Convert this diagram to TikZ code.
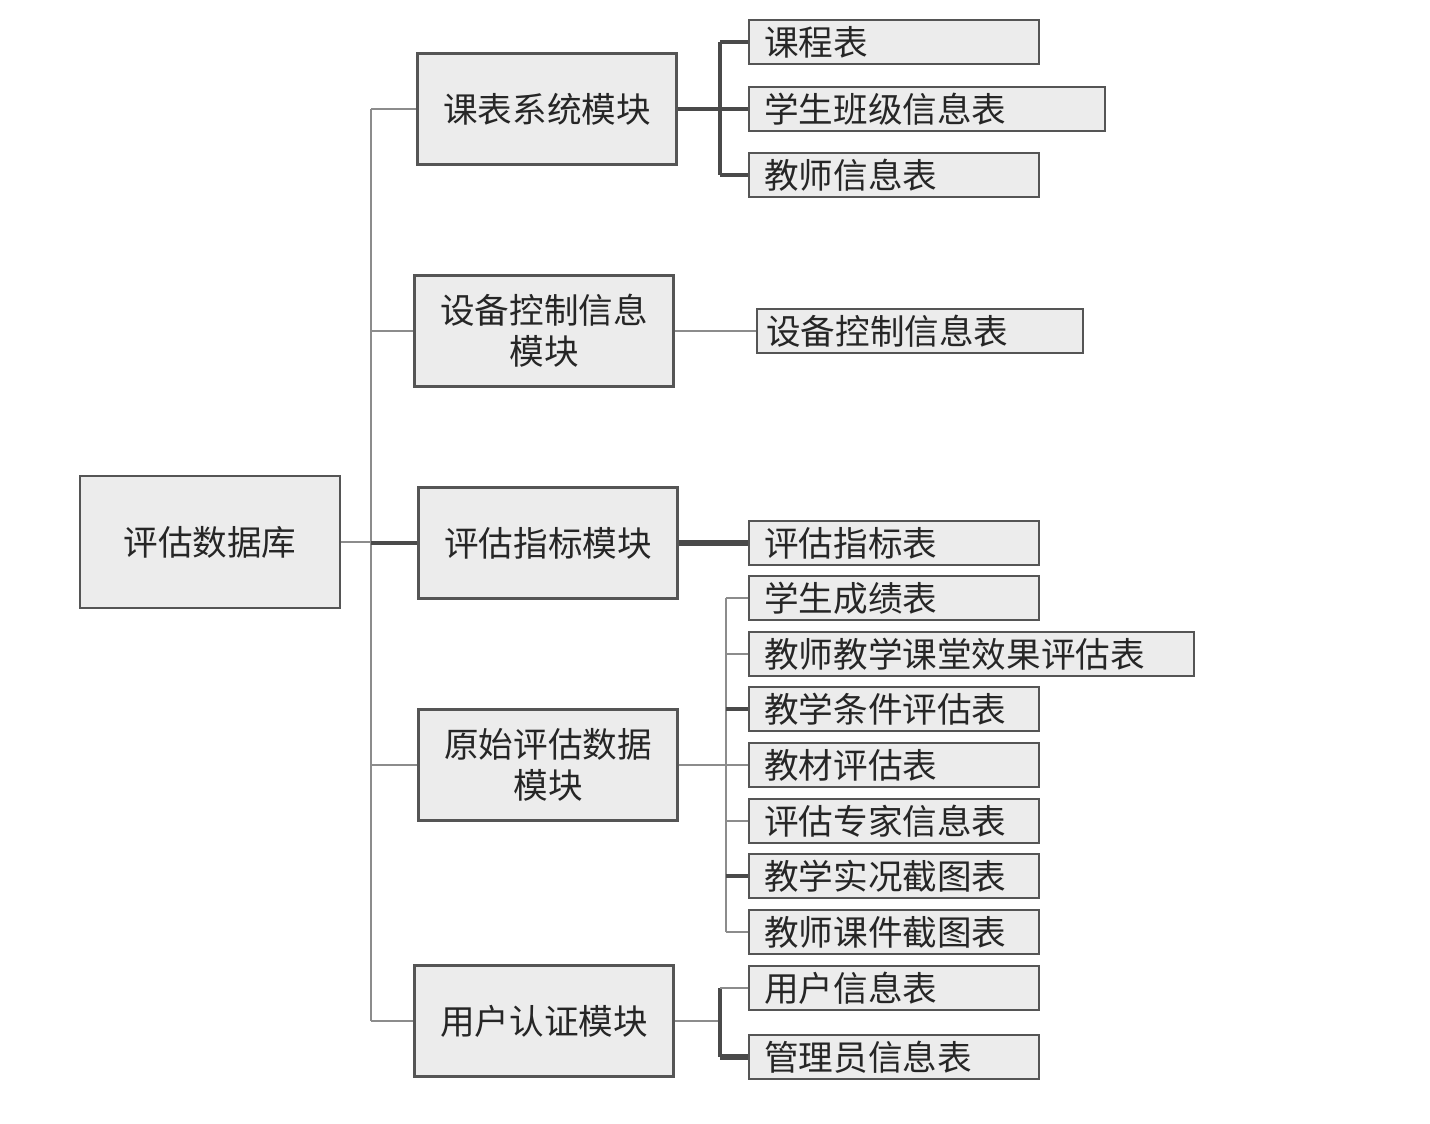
\documentclass[tikz,border=0pt]{standalone}
\usepackage{fontspec}
\setmainfont{Noto Sans CJK SC}
\usetikzlibrary{positioning}

\definecolor{boxfill}{HTML}{ECECEC}
\definecolor{boxline}{HTML}{555555}
\definecolor{lightline}{HTML}{8C8C8C}
\definecolor{darkline}{HTML}{4A4A4A}

\tikzset{
    box/.style={draw=boxline, fill=boxfill, line width=1.4pt, rectangle,
        font=\fontsize{19.7}{23.5}\selectfont, text=black!85},
    modbox/.style={box, minimum width=5.18cm, minimum height=2.22cm,
        align=center},
    leaf/.style={box, anchor=west, minimum height=0.88cm, inner xsep=0.3cm,
        inner ysep=0pt, text width=#1, align=left},
    thinline/.style={draw=lightline, line width=1.6pt},
    thickline/.style={draw=darkline, line width=2.6pt}
}

\begin{document}
\begin{tikzpicture}[x=0.02cm, y=-0.02cm]
    \useasboundingbox (0,0) rectangle (1430,1124);

    % root and modules
    \node[box, minimum width=5.2cm, minimum height=2.64cm] (root) at (210,542) {评估数据库};
    \node[modbox] (kebiao)  at (547,109) {课表系统模块};
    \node[modbox] (shebei)  at (544,331) {设备控制信息\\模块};
    \node[modbox] (zhibiao) at (548,543) {评估指标模块};
    \node[modbox] (yuanshi) at (548,765) {原始评估数据\\模块};
    \node[modbox] (yonghu)  at (544,1021) {用户认证模块};

    % tables
    \node[leaf=5.2cm]  (kecheng) at (748,42)  {课程表};
    \node[leaf=6.52cm] (banji)   at (748,109) {学生班级信息表};
    \node[leaf=5.2cm]  (jiaoshi) at (748,175) {教师信息表};
    \node[leaf=6.16cm, inner xsep=0.18cm] (kongzhi) at (756,331) {设备控制信息表};
    \node[leaf=5.2cm]  (zhibiaob) at (748,543) {评估指标表};
    \foreach \n/\y/\w/\t in
        {chengji/598/5.2/学生成绩表,
         xiaoguo/654/8.3/教师教学课堂效果评估表,
         tiaojian/709/5.2/教学条件评估表,
         jiaocai/765/5.2/教材评估表,
         zhuanjia/821/5.2/评估专家信息表,
         shikuang/876/5.2/教学实况截图表,
         kejian/932/5.2/教师课件截图表}
        {
            \node[leaf=\w cm] (\n) at (748,\y) {\t};
        }
    \node[leaf=5.2cm] (yonghub) at (748,988)  {用户信息表};
    \node[leaf=5.2cm] (guanli)  at (748,1057) {管理员信息表};

    % trunk
    \coordinate (bus) at (371,542);
    \draw[thinline] (root.east) -- (bus);
    \draw[thinline] (bus |- kebiao.west) -- (bus |- yonghu.west);
    \foreach \m in {kebiao, shebei, yuanshi, yonghu}
        \draw[thinline] (bus |- \m.west) -- (\m.west);
    \draw[thickline] (bus |- zhibiao.west) -- (zhibiao.west);

    % branches
    \coordinate (j1) at (720,109);
    \draw[thickline] (kebiao.east) -- (j1);
    \draw[thickline] (j1 |- kecheng.west) -- (j1 |- jiaoshi.west);
    \foreach \t in {kecheng, banji, jiaoshi}
        \draw[thickline] (j1 |- \t.west) -- (\t.west);

    \draw[thinline] (shebei.east) -- (kongzhi.west);
    \draw[thickline, line width=3.4pt] (zhibiao.east) -- (zhibiaob.west);

    \coordinate (j4) at (726,765);
    \draw[thinline] (yuanshi.east) -- (j4);
    \draw[thinline] (j4 |- chengji.west) -- (j4 |- kejian.west);
    \foreach \t in {chengji, xiaoguo, jiaocai, zhuanjia, kejian}
        \draw[thinline] (j4 |- \t.west) -- (\t.west);
    \foreach \t in {tiaojian, shikuang}
        \draw[thickline] (j4 |- \t.west) -- (\t.west);

    \coordinate (j5) at (720,1021);
    \draw[thinline] (yonghu.east) -- (j5);
    \draw[thickline] (j5 |- yonghub.west) -- (j5 |- guanli.west);
    \draw[thinline] (j5 |- yonghub.west) -- (yonghub.west);
    \draw[thickline, line width=3.4pt] (j5 |- guanli.west) -- (guanli.west);
\end{tikzpicture}
\end{document}
